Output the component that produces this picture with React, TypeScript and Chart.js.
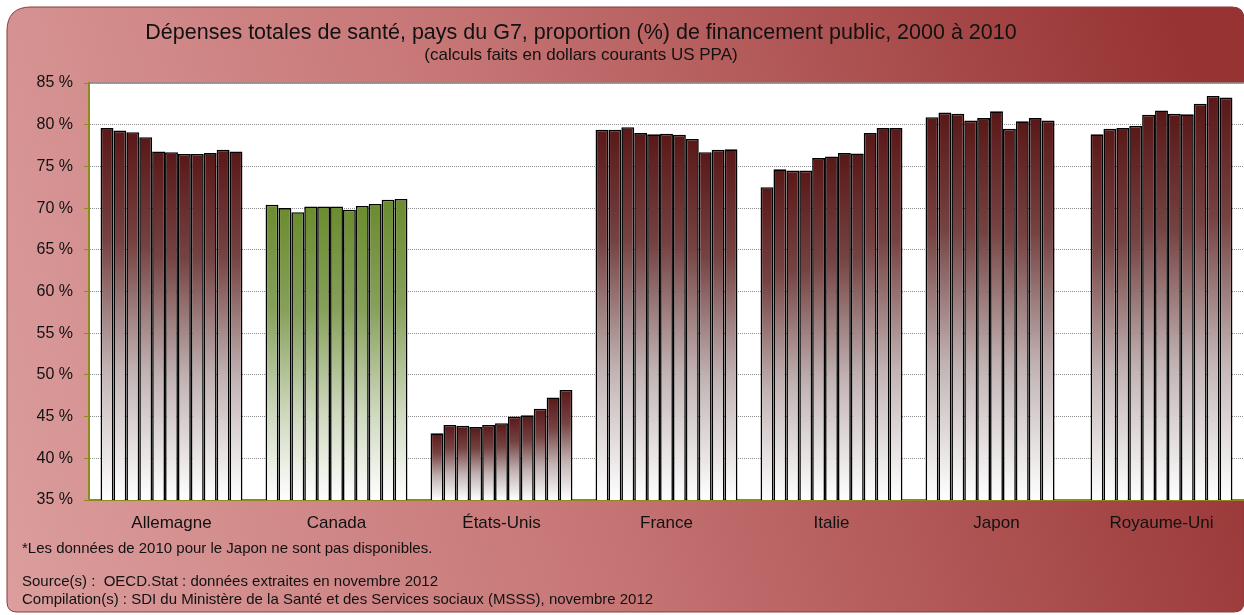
import React, { useEffect, useRef } from "react";
import { Chart, registerables } from "chart.js";

Chart.register(...registerables);

const categories = ["Allemagne", "Canada", "États-Unis", "France", "Italie", "Japon", "Royaume-Uni"];
const years = ["2000", "2001", "2002", "2003", "2004", "2005", "2006", "2007", "2008", "2009", "2010"];

const allemagne = [79.6, 79.3, 79.1, 78.5, 76.8, 76.7, 76.5, 76.5, 76.6, 77.0, 76.8];
const canada = [70.4, 70.0, 69.5, 70.2, 70.2, 70.2, 69.8, 70.25, 70.5, 71.0, 71.1];
const etatsUnis = [43.0, 44.0, 43.9, 43.75, 44.0, 44.2, 45.0, 45.15, 45.95, 47.3, 48.2];
const france = [79.4, 79.4, 79.7, 79.0, 78.85, 78.9, 78.8, 78.3, 76.7, 77.0, 77.05];
const italie = [72.5, 74.65, 74.5, 74.5, 76.0, 76.2, 76.6, 76.55, 79.0, 79.6, 79.6];
const japon = [80.9, 81.45, 81.3, 80.5, 80.8, 81.6, 79.5, 80.4, 80.8, 80.5, null];
const royaumeUni = [78.85, 79.5, 79.6, 79.85, 81.2, 81.7, 81.3, 81.25, 82.5, 83.45, 83.25];

const yTicks = [35, 40, 45, 50, 55, 60, 65, 70, 75, 80, 85];

const titleText = "Dépenses totales de santé, pays du G7, proportion (%) de financement public, 2000 à 2010";
const subtitleText = "(calculs faits en dollars courants US PPA)";
const noteText = "*Les données de 2010 pour le Japon ne sont pas disponibles.";
const sourceText = "Source(s) :  OECD.Stat : données extraites en novembre 2012";
const compilationText = "Compilation(s) : SDI du Ministère de la Santé et des Services sociaux (MSSS), novembre 2012";

const FONT = "'Liberation Sans', Arial, sans-serif";

function roundRectPath(ctx: CanvasRenderingContext2D, x: number, y: number, w: number, h: number, rtl: number, rtr: number, rbr: number, rbl: number) {
  ctx.beginPath();
  ctx.moveTo(x + rtl, y);
  ctx.lineTo(x + w - rtr, y);
  ctx.quadraticCurveTo(x + w, y, x + w, y + rtr);
  ctx.lineTo(x + w, y + h - rbr);
  ctx.quadraticCurveTo(x + w, y + h, x + w - rbr, y + h);
  ctx.lineTo(x + rbl, y + h);
  ctx.quadraticCurveTo(x, y + h, x, y + h - rbl);
  ctx.lineTo(x, y + rtl);
  ctx.quadraticCurveTo(x, y, x + rtl, y);
  ctx.closePath();
}

const backgroundPlugin = {
  id: "bgPanel",
  beforeDraw(chart: any) {
    const ctx = chart.ctx as CanvasRenderingContext2D;
    const { width, height, chartArea } = chart;
    ctx.save();
    ctx.fillStyle = "#ffffff";
    ctx.fillRect(0, 0, width, height);
    const g = ctx.createLinearGradient(0, height, width, height * 0.4);
    g.addColorStop(0, "#dc9e9e");
    g.addColorStop(0.45, "#c77676");
    g.addColorStop(1, "#973333");
    roundRectPath(ctx, 7, 7, width - 7, height - 10, 24, 12, 10, 10);
    ctx.fillStyle = g;
    ctx.fill();
    ctx.strokeStyle = "#8a3a3a";
    ctx.lineWidth = 1;
    ctx.stroke();
    ctx.fillStyle = "#ffffff";
    ctx.fillRect(chartArea.left, chartArea.top, chartArea.right - chartArea.left, chartArea.bottom - chartArea.top);
    ctx.strokeStyle = "#8c8c8c";
    ctx.lineWidth = 1.5;
    ctx.beginPath();
    ctx.moveTo(chartArea.left, chartArea.top);
    ctx.lineTo(chartArea.right, chartArea.top);
    ctx.stroke();
    ctx.restore();
  },
  afterDraw(chart: any) {
    const ctx = chart.ctx as CanvasRenderingContext2D;
    ctx.save();
    ctx.fillStyle = "#111111";
    ctx.textAlign = "center";
    ctx.textBaseline = "middle";
    ctx.font = `21.5px ${FONT}`;
    ctx.fillText(titleText, 581, 33);
    ctx.font = `17px ${FONT}`;
    ctx.fillText(subtitleText, 581, 55);
    ctx.textAlign = "left";
    ctx.font = `15px ${FONT}`;
    ctx.fillText(noteText, 22, 549);
    ctx.fillText(sourceText, 22, 582);
    ctx.fillText(compilationText, 22, 600);
    ctx.restore();
  },
};

function barFill(ctx: any) {
  const chart = ctx.chart;
  const area = chart.chartArea;
  const v = ctx.raw;
  const green = ctx.dataIndex === 1;
  if (!area || v == null) return green ? "#6f8f32" : "#5e1c1c";
  const top = chart.scales.y.getPixelForValue(v);
  const g = chart.ctx.createLinearGradient(0, top, 0, area.bottom);
  if (green) {
    g.addColorStop(0, "#6b8c2e");
    g.addColorStop(0.35, "#86a05a");
    g.addColorStop(0.7, "#cdd8bc");
    g.addColorStop(1, "#ffffff");
  } else {
    g.addColorStop(0, "#5a1818");
    g.addColorStop(0.3, "#754242");
    g.addColorStop(0.65, "#c2b3b3");
    g.addColorStop(1, "#ffffff");
  }
  return g;
}

const seriesByCountry = [allemagne, canada, etatsUnis, france, italie, japon, royaumeUni];

export default function App() {
  const ref = useRef<HTMLCanvasElement | null>(null);
  useEffect(() => {
    if (!ref.current) return;
    const datasets = years.map((yr, yi) => ({
      label: yr,
      data: seriesByCountry.map((s) => s[yi]),
      backgroundColor: barFill,
      borderColor: "#000000",
      borderWidth: 1.6,
      categoryPercentage: 0.86,
      barPercentage: 1,
    }));
    const chart = new Chart(ref.current, {
      type: "bar",
      data: { labels: categories, datasets },
      plugins: [backgroundPlugin],
      options: {
        animation: false,
        responsive: false,
        maintainAspectRatio: false,
        layout: { padding: { top: 83, left: 0, right: 0, bottom: 0 } },
        plugins: { legend: { display: false }, tooltip: { enabled: false }, title: { display: false } },
        scales: {
          x: {
            type: "category",
            grid: { display: false },
            border: { display: true, color: "#8c8c1e", width: 2 },
            ticks: { color: "#111111", font: { family: FONT, size: 17 }, padding: 5, maxRotation: 0 },
            afterFit: (s: any) => { s.height = 115; },
          },
          y: {
            min: 35,
            max: 85,
            afterBuildTicks: (s: any) => { s.ticks = yTicks.map((v) => ({ value: v })); },
            grid: { color: "#8e8e8e", lineWidth: 1, tickColor: "#8c8c1e", tickLength: 5, drawTicks: true },
            border: { display: true, color: "#8c8c1e", width: 2, dash: [1, 1] },
            ticks: { color: "#111111", font: { family: FONT, size: 16 }, padding: 11, callback: (v: any) => `${v} %` },
            afterFit: (s: any) => { s.width = 89; },
          },
        },
      },
    } as any);
    return () => chart.destroy();
  }, []);
  return (
    <div style={{ position: "fixed", left: 0, top: 0, width: 1244, height: 615 }}>
      <canvas ref={ref} width={1244} height={615} style={{ width: 1244, height: 615, display: "block" }} />
    </div>
  );
}
